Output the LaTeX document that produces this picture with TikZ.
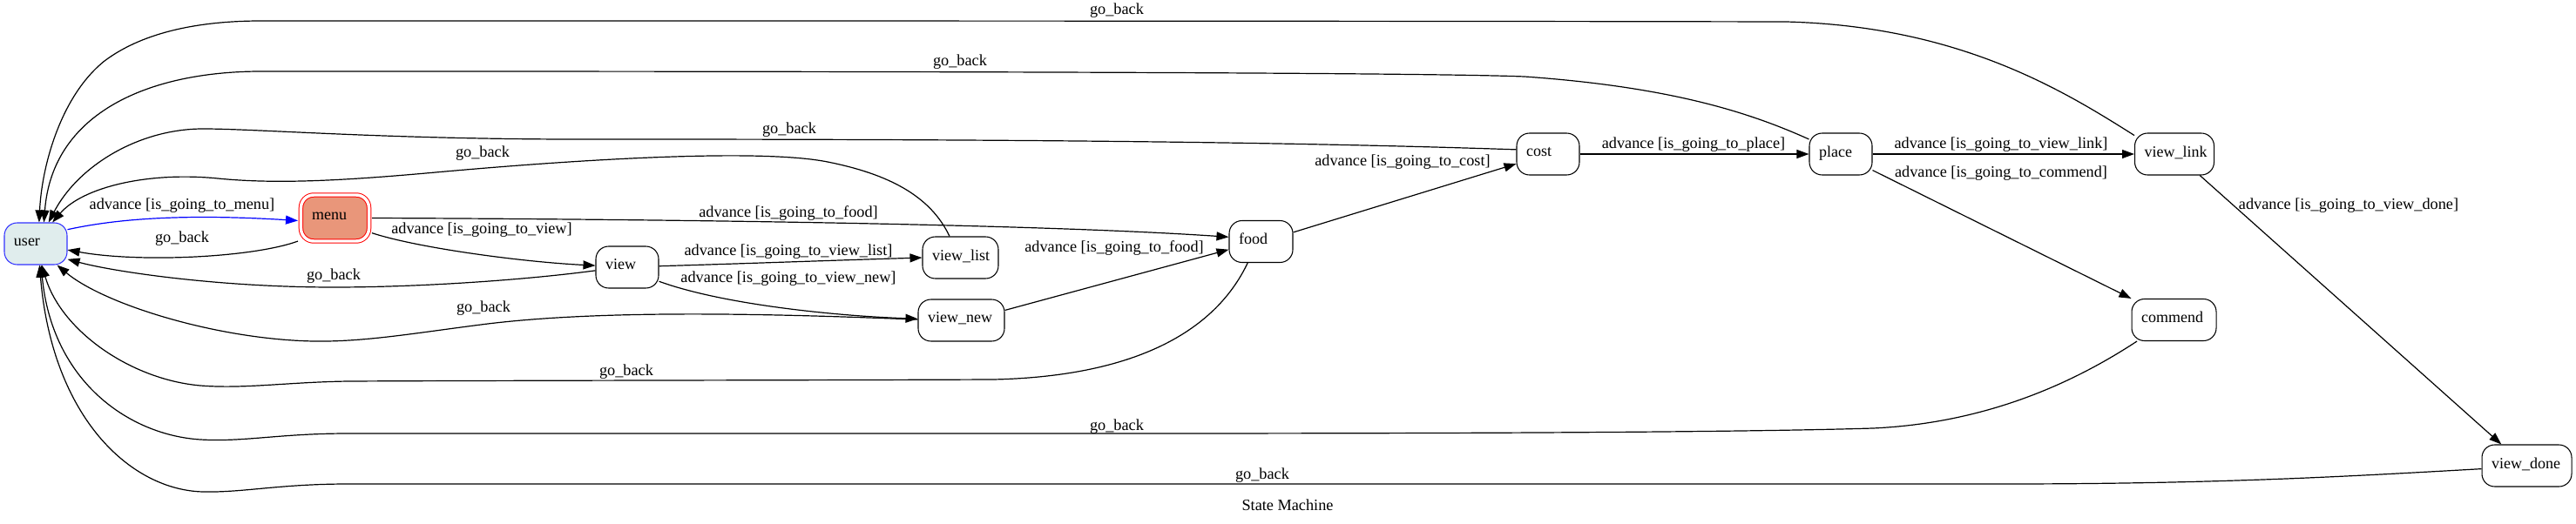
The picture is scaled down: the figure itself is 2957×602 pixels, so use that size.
\documentclass[tikz,border=0pt]{standalone}
\usepackage{fontspec}
\setmainfont{Liberation Serif}
\usetikzlibrary{arrows.meta}
\definecolor{userfill}{HTML}{E0EDED}
\definecolor{userdraw}{HTML}{3333FF}
\definecolor{menufill}{HTML}{E9967A}
\hyphenpenalty=10000
\exhyphenpenalty=10000
\begin{document}
\begin{tikzpicture}[x=0.75pt,y=-0.75pt,
  st/.style={draw=black, line width=0.8pt, rounded corners=11pt, fill=white,
    minimum height=36pt, inner xsep=8.25pt, inner ysep=0pt, align=left,
    text width=#1, font=\fontsize{13.5}{16}\selectfont,
    execute at begin node={\rule[-4.5pt]{0pt}{12pt}}},
  conn/.style={-{Triangle[length=10.5pt,width=7.5pt]}, line width=0.9pt},
  lab/.style={anchor=base, inner sep=0pt, text=black, font=\fontsize{13.7}{16}\selectfont}]
\useasboundingbox (0,0) rectangle (2957,602);

% states
\node[st=37.5pt, draw=userdraw, fill=userfill] (user) at (41,280) {user};
\node[draw=red, double=white, double distance=2.6pt, line width=0.75pt,
  fill=menufill, rounded corners=11pt, minimum height=39.75pt,
  inner xsep=9.4pt, inner ysep=0pt, align=left, text width=39.75pt,
  outer sep=2.6pt, font=\fontsize{13.5}{16}\selectfont,
  execute at begin node={\rule[-4.5pt]{0pt}{12pt}}] (menu) at (384.5,250.5) {menu};
\node[st=37.5pt] (view) at (720,307) {view};
\node[st=48.75pt] (vlist) at (1102.5,296) {view\_list};
\node[st=57.75pt] (vnew) at (1103.5,368) {view\_new};
\node[st=38.25pt] (food) at (1447.5,277.5) {food};
\node[st=37.5pt] (cost) at (1777,177) {cost};
\node[st=37.5pt] (place) at (2113,177) {place};
\node[st=51.75pt] (vlink) at (2496,177) {view\_link};
\node[st=56.25pt] (commend) at (2495.5,367.5) {commend};
\node[st=60.75pt] (vdone) at (2900.5,535) {view\_done};
\node[lab] (title) at (1478,586) {State Machine};

% transitions
\draw[conn, blue] (user.24) .. controls (140,250) and (220,246) .. (menu.184)
  node[lab] at (209,241) {advance [is\_going\_to\_menu]};
\draw[conn] (menu.212) .. controls (290,296) and (160,302) .. (user.-11)
  node[lab] at (209,278) {go\_back};
\draw[conn] (menu.-22) .. controls (480,285) and (600,301) .. (view.177)
  node[lab] at (553,268) {advance [is\_going\_to\_view]};
\draw[conn] (menu.east) .. controls (800,252) and (1200,258) .. (food.172)
  node[lab] at (905,249) {advance [is\_going\_to\_food]};
\draw[conn] (view.186) .. controls (600,322) and (480,330) .. (383,330)
  .. controls (250,330) and (130,312) .. (user.-26)
  node[lab] at (383,321) {go\_back};
\draw[conn] (view.2) .. controls (850,303) and (960,299) .. (vlist.west)
  node[lab] at (905,293) {advance [is\_going\_to\_view\_list]};
\draw[conn] (view.-24) .. controls (830,350) and (960,363) .. (vnew.178)
  node[lab] at (905,324.5) {advance [is\_going\_to\_view\_new]};
\draw[conn] (vnew.179) .. controls (900,361) and (700,355) .. (560,372)
  .. controls (480,382) and (420,393) .. (360,392)
  .. controls (250,390) and (120,350) .. (user.-45)
  node[lab] at (555,358) {go\_back};
\draw[conn] (vlist.117) .. controls (1068,225) and (1020,200) .. (950,186)
  .. controls (880,172) and (700,180) .. (500,198)
  .. controls (400,207) and (320,212) .. (250,205)
  .. controls (170,197) and (95,215) .. (user.52)
  node[lab] at (554,181) {go\_back};
\draw[conn] (food.16) -- (cost.197)
  node[lab] at (1610,191) {advance [is\_going\_to\_cost]};
\draw[conn] (vnew.13) -- (food.194)
  node[lab] at (1279,289) {advance [is\_going\_to\_food]};
\draw[conn] (food.238) .. controls (1400,370) and (1320,432) .. (1140,436)
  .. controls (900,437) and (600,437) .. (400,438)
  .. controls (330,439) and (280,447) .. (230,443)
  .. controls (150,436) and (70,380) .. (user.-74)
  node[lab] at (719,431) {go\_back};
\draw[conn] (cost.east) -- (place.west)
  node[lab] at (1944,171) {advance [is\_going\_to\_place]};
\draw[conn] (cost.172) .. controls (1450,162) and (1100,160) .. (700,160)
  .. controls (450,161) and (300,148) .. (233,148)
  .. controls (160,148) and (90,190) .. (user.59)
  node[lab] at (906,154) {go\_back};
\draw[conn] (place.155) .. controls (2010,130) and (1920,100) .. (1750,88)
  .. controls (1600,82) and (700,82) .. (300,82)
  .. controls (170,82) and (60,130) .. (user.69)
  node[lab] at (1102,76) {go\_back};
\draw[conn] (place.east) -- (vlink.west)
  node[lab] at (2297,171) {advance [is\_going\_to\_view\_link]};
\draw[conn] (place.-27) -- (commend.north west)
  node[lab] at (2297,204) {advance [is\_going\_to\_commend]};
\draw[conn] (vlink.-40) -- (vdone.140)
  node[lab] at (2696,241) {advance [is\_going\_to\_view\_done]};
\draw[conn] (vlink.155) .. controls (2370,105) and (2250,30) .. (2050,25)
  .. controls (1500,24) and (800,24) .. (300,24)
  .. controls (220,24) and (160,40) .. (120,70)
  .. controls (70,110) and (48,190) .. (user.81)
  node[lab] at (1282,17) {go\_back};
\draw[conn] (commend.210) .. controls (2380,440) and (2280,486) .. (2150,492)
  .. controls (1950,498) and (1500,498) .. (1200,498)
  .. controls (900,498) and (600,498) .. (400,498)
  .. controls (320,498) and (280,508) .. (230,505)
  .. controls (150,500) and (60,440) .. (user.-76)
  node[lab] at (1282,494) {go\_back};
\draw[conn] (vdone.184) .. controls (2700,547) and (2550,556) .. (2300,556)
  .. controls (1700,556) and (900,556) .. (400,556)
  .. controls (320,556) and (280,566) .. (233,565)
  .. controls (150,563) and (60,480) .. (user.-80)
  node[lab] at (1449,550) {go\_back};
\end{tikzpicture}
\end{document}
